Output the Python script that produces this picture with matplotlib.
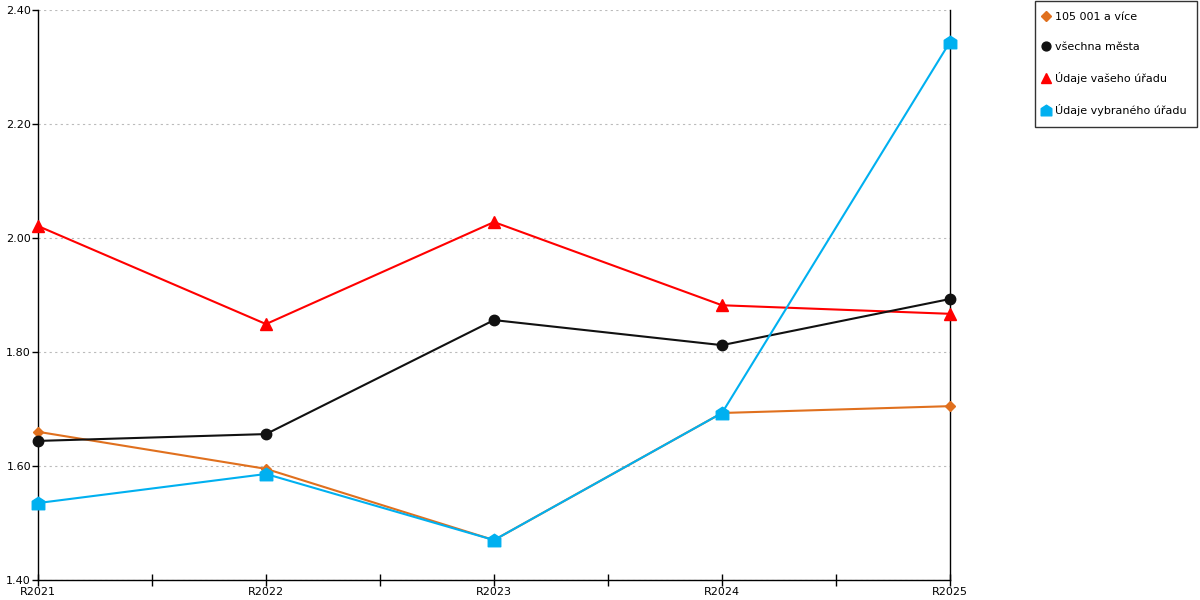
import matplotlib.pyplot as plt
from matplotlib.path import Path

roky = ['R2021', 'R2022', 'R2023', 'R2024', 'R2025']

velka_mesta = [1.660, 1.595, 1.470, 1.693, 1.705]
vsechna_mesta = [1.644, 1.656, 1.856, 1.812, 1.893]
vas_urad = [2.021, 1.849, 2.028, 1.882, 1.867]
vybrany_urad = [1.535, 1.586, 1.470, 1.693, 2.344]

# "domecek" - znacka jako v originale
domek = Path([(-1, -1), (1, -1), (1, 0.35), (0, 1), (-1, 0.35), (-1, -1)],
             [Path.MOVETO, Path.LINETO, Path.LINETO, Path.LINETO, Path.LINETO, Path.CLOSEPOLY])

fig = plt.figure(figsize=(12, 6), dpi=100)
ax = fig.add_axes([38 / 1200, 20 / 600, 912 / 1200, 570 / 600])

x = range(len(roky))
ax.plot(x, vas_urad, color='#FF0000', lw=1.5, marker='^', ms=8.5,
        label='Údaje vašeho úřadu', clip_on=False, zorder=3)
ax.plot(x, velka_mesta, color='#E0701E', lw=1.5, marker='D', ms=5.5,
        label='105 001 a více', clip_on=False, zorder=4)
ax.plot(x, vsechna_mesta, color='#111111', lw=1.5, marker='o', ms=7.5,
        label='všechna města', clip_on=False, zorder=5)
ax.plot(x, vybrany_urad, color='#00B0F0', lw=1.5, marker=domek, ms=9,
        label='Údaje vybraného úřadu', clip_on=False, zorder=6)

ax.set_xlim(0, 4)
ax.set_ylim(1.40, 2.40)
ax.set_xticks(list(x))
ax.set_xticklabels(roky)
ax.set_xticks([0.5, 1.5, 2.5, 3.5], minor=True)
ax.set_yticks([1.40, 1.60, 1.80, 2.00, 2.20, 2.40])
ax.set_yticklabels(['%.2f' % v for v in ax.get_yticks()])
ax.tick_params(axis='x', which='both', direction='inout', length=8, width=1,
               labelsize=8, pad=1)
ax.tick_params(axis='y', direction='out', length=4, width=1, labelsize=8, pad=1)

ax.grid(axis='y', color='#BBBBBB', linestyle=(0, (2, 3)), lw=0.8)
ax.set_axisbelow(True)
ax.spines['top'].set_visible(False)
for s in ['left', 'right', 'bottom']:
    ax.spines[s].set_color('black')
    ax.spines[s].set_linewidth(1)

handles, labels = ax.get_legend_handles_labels()
poradi = [1, 2, 0, 3]
leg = fig.legend([handles[i] for i in poradi], [labels[i] for i in poradi],
                 loc='upper left', bbox_to_anchor=(1034 / 1200, 1.0),
                 frameon=True, fancybox=False, edgecolor='black',
                 fontsize=8, handlelength=0, handletextpad=0.8,
                 labelspacing=1.8, borderpad=1.0, borderaxespad=0.05,
                 markerscale=0.85)
leg.get_frame().set_linewidth(1)
for h in leg.legend_handles:
    h.set_linestyle('')

fig.savefig('out.png', dpi=100)
